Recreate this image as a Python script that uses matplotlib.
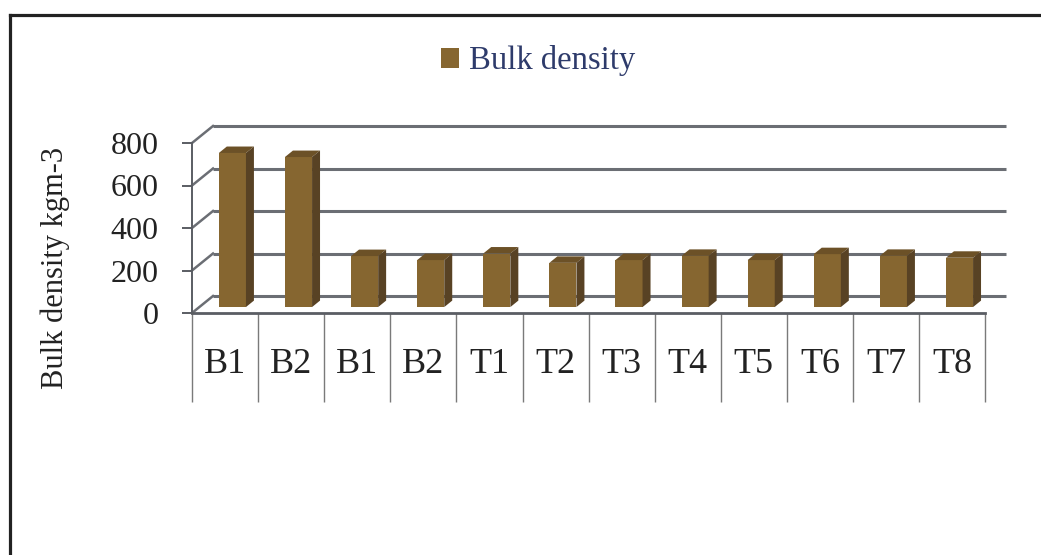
import matplotlib
matplotlib.use('Agg')
import matplotlib.pyplot as plt
from matplotlib.patches import Polygon
from matplotlib.lines import Line2D

# ---- data ----
categories = ['B1', 'B2', 'B1', 'B2', 'T1', 'T2', 'T3', 'T4', 'T5', 'T6', 'T7', 'T8']
bulk_density = [725, 706, 240, 221, 252, 208, 221, 241, 221, 249, 241, 232]
y_ticks = [0, 200, 400, 600, 800]
series_label = 'Bulk density'
y_label = 'Bulk density kgm-3'

# ---- styling / geometry ----
W, H = 1041, 555
SERIF = ['Liberation Serif', 'DejaVu Serif']
FRONT = '#866630'
TOP = '#6c5127'
SIDE = '#584224'
GRID = '#6b6e74'

x0_px, y0_px = 192, 313          # front-plane origin in pixels (from top-left)
cat_px = 66.1                    # pixels per category
val_px = 0.2125                  # pixels per value unit
DX = 21 / cat_px                 # depth offset (category units)
DY = 17 / val_px                 # depth offset (value units)
bar_w = 0.41                     # front face width
f_depth = 0.35                   # depth position of bar front face
b_depth = 0.38                   # bar depth fraction
table_bottom = -(402 - y0_px) / val_px

fig = plt.figure(figsize=(W / 100, H / 100), dpi=100)
ax = fig.add_axes([0, 0, 1, 1])
ax.set_xlim(-x0_px / cat_px, (W - x0_px) / cat_px)
ax.set_ylim(-(H - y0_px) / val_px, y0_px / val_px)
ax.patch.set_alpha(0)

n = len(categories)
top_val = y_ticks[-1]

# back wall gridlines and side wall diagonals
for v in y_ticks:
    ax.plot([DX, n + DX], [v + DY, v + DY], color=GRID, lw=2.2, zorder=1,
            solid_capstyle='butt')
    ax.plot([0, DX], [v, v + DY], color=GRID, lw=1.8, zorder=1)

# table dividers
ax.vlines(range(n + 1), table_bottom, 0, color='#7a7a7a', lw=1.0, zorder=1)

# bars
xs = [i + 0.5 + f_depth * DX for i in range(n)]
base = f_depth * DY
bars = ax.bar(xs, bulk_density, width=bar_w, bottom=base, color=FRONT,
              label=series_label, zorder=3, linewidth=0)
dxb, dyb = b_depth * DX, b_depth * DY
for x, v in zip(xs, bulk_density):
    xl, xr = x - bar_w / 2, x + bar_w / 2
    yt = base + v
    ax.add_patch(Polygon([(xl, yt), (xr, yt), (xr + dxb, yt + dyb), (xl + dxb, yt + dyb)],
                         closed=True, facecolor=TOP, edgecolor='none', zorder=3))
    ax.add_patch(Polygon([(xr, base), (xr, yt), (xr + dxb, yt + dyb), (xr + dxb, base + dyb)],
                         closed=True, facecolor=SIDE, edgecolor='none', zorder=3))

# axes spines / ticks
for s in ['top', 'right']:
    ax.spines[s].set_visible(False)
ax.spines['left'].set_position(('data', 0))
ax.spines['left'].set_bounds(0, top_val)
ax.spines['left'].set_color('#5a5d63')
ax.spines['left'].set_linewidth(1.4)
ax.spines['bottom'].set_position(('data', 0))
ax.spines['bottom'].set_bounds(0, n)
ax.spines['bottom'].set_color('#5a5d63')
ax.spines['bottom'].set_linewidth(2.0)

ax.set_yticks(y_ticks)
ax.set_yticklabels([str(t) for t in y_ticks], fontfamily=SERIF, fontsize=23, color='#222222')
ax.tick_params(axis='y', direction='out', length=7, width=1.4, color='#5a5d63', pad=17)

ax.set_xticks([i + 0.5 for i in range(n)])
ax.set_xticklabels(categories, fontfamily=SERIF, fontsize=26, color='#222222')
ax.tick_params(axis='x', length=0, pad=25)

ax.set_ylabel(y_label, fontfamily=SERIF, fontsize=22, color='#222222')
ax.yaxis.set_label_coords(70 / W, 1 - 268 / H)

leg = ax.legend(loc='center', bbox_to_anchor=(538 / W, 1 - 61 / H), frameon=False,
                handlelength=0.56, handleheight=0.56, handletextpad=0.3,
                prop={'family': SERIF, 'size': 23.5}, labelcolor='#2e3b6b')

# outer frame (left and top edges visible)
fig.add_artist(Line2D([9.5 / W, 9.5 / W], [0, 1 - 14.5 / H], transform=fig.transFigure,
                      color='#222222', lw=2.3, solid_capstyle='projecting'))
fig.add_artist(Line2D([9.5 / W, 1], [1 - 14.5 / H, 1 - 14.5 / H], transform=fig.transFigure,
                      color='#222222', lw=2.3, solid_capstyle='projecting'))

fig.savefig('out.png', dpi=100, facecolor='white')
